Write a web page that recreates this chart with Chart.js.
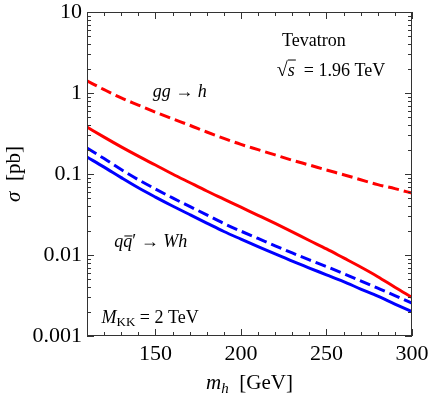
<!DOCTYPE html>
<html>
<head>
<meta charset="utf-8">
<style>
  html, body { margin: 0; padding: 0; background: #fff; }
</style>
<script src="https://cdn.jsdelivr.net/npm/chart.js@4"></script>
</head>
<body>
<canvas id="myChart" width="429" height="395"></canvas>
<script>
// Higgs mass (GeV)
var masses = [110, 120, 130, 140, 150, 160, 170, 180, 190, 200, 210, 220, 230, 240, 250, 260, 270, 280, 290, 300];

// cross sections in pb
var redDashed  = [1.41, 1.10, 0.87, 0.71, 0.58, 0.48, 0.40, 0.33, 0.275, 0.232, 0.200, 0.172, 0.148, 0.129, 0.112, 0.098, 0.085, 0.074, 0.066, 0.058];
var redSolid   = [0.38, 0.285, 0.216, 0.166, 0.129, 0.100, 0.0785, 0.0617, 0.049, 0.0389, 0.0309, 0.0245, 0.0193, 0.0151, 0.0119, 0.0092, 0.0071, 0.0054, 0.0040, 0.0030];
var blueDashed = [0.209, 0.155, 0.1135, 0.085, 0.0653, 0.0507, 0.0398, 0.0313, 0.0245, 0.0197, 0.0160, 0.0130, 0.0106, 0.0087, 0.0072, 0.0059, 0.0048, 0.0039, 0.00316, 0.00254];
var blueSolid  = [0.162, 0.1216, 0.0902, 0.0676, 0.0519, 0.0403, 0.0316, 0.0248, 0.0195, 0.0157, 0.0127, 0.01035, 0.0084, 0.0069, 0.0057, 0.0047, 0.0038, 0.0031, 0.00248, 0.0020];

var xTickValues = [150, 200, 250, 300];
var yTickValues = [0.001, 0.01, 0.1, 1, 10];
var yTickLabels = ['0.001', '0.01', '0.1', '1', '10'];

var serif = '"Liberation Serif", "Times New Roman", serif';

function pts(arr) {
    return masses.map(function (m, i) { return { x: m, y: arr[i] }; });
}

function runsWidth(ctx, runs) {
    var w = 0;
    runs.forEach(function (r) { ctx.font = r.font; w += ctx.measureText(r.text).width; });
    return w;
}

function drawRuns(ctx, x, y, runs) {
    var cx = x;
    runs.forEach(function (r) {
        ctx.font = r.font;
        var w = ctx.measureText(r.text).width;
        ctx.fillText(r.text, cx, y + (r.dy || 0));
        if (r.bar) {
            ctx.beginPath();
            ctx.lineWidth = 1;
            ctx.moveTo(cx + (r.barFrom || 0), y - r.bar);
            ctx.lineTo(cx + w + (r.barExtra || 0), y - r.bar);
            ctx.stroke();
        }
        cx += w;
    });
}

var framePlugin = {
    id: 'frame',
    afterDatasetsDraw: function (chart) {
        var ctx = chart.ctx, a = chart.chartArea;
        var xs = chart.scales.x, ys = chart.scales.y;
        ctx.save();
        ctx.strokeStyle = '#333';
        ctx.lineWidth = 1;
        ctx.strokeRect(a.left + 0.5, a.top + 0.5, a.right - a.left - 1, a.bottom - a.top - 1);

        // x ticks, bottom and top, pointing inwards
        for (var v = 110; v <= 300; v += 10) {
            var px = Math.round(xs.getPixelForValue(v)) + 0.5;
            var len = v % 50 === 0 ? 7 : 4;
            ctx.beginPath();
            ctx.moveTo(px, a.bottom); ctx.lineTo(px, a.bottom - len);
            ctx.moveTo(px, a.top); ctx.lineTo(px, a.top + len);
            ctx.stroke();
        }
        // y ticks, log minor ticks
        for (var e = -3; e <= 1; e++) {
            for (var k = 1; k <= 9; k++) {
                if (e === 1 && k > 1) break;
                var val = k * Math.pow(10, e);
                var py = Math.round(ys.getPixelForValue(val)) + 0.5;
                var l = k === 1 ? 7 : 4;
                ctx.beginPath();
                ctx.moveTo(a.left, py); ctx.lineTo(a.left + l, py);
                ctx.moveTo(a.right, py); ctx.lineTo(a.right - l, py);
                ctx.stroke();
            }
        }

        // annotations
        ctx.fillStyle = '#000';
        ctx.strokeStyle = '#000';
        ctx.textBaseline = 'alphabetic';
        var up = '18px ' + serif, it = 'italic 18px ' + serif;
        drawRuns(ctx, xs.getPixelForValue(224), ys.getPixelForValue(3.8), [{ text: 'Tevatron', font: up }]);
        drawRuns(ctx, xs.getPixelForValue(221), ys.getPixelForValue(1.62), [
            { text: '\u221A', font: '20px ' + serif },
            { text: 's', font: it, bar: 16, barExtra: 1 },
            { text: '  = 1.96 TeV', font: up }
        ]);
        drawRuns(ctx, xs.getPixelForValue(148.4), ys.getPixelForValue(0.89), [
            { text: 'gg', font: it }, { text: ' \u2192 ', font: up }, { text: 'h', font: it }
        ]);
        drawRuns(ctx, xs.getPixelForValue(126), ys.getPixelForValue(0.01256), [
            { text: 'q', font: it }, { text: 'q', font: it, bar: 11, barFrom: 1 },
            { text: '\u2032', font: up }, { text: ' \u2192 ', font: up }, { text: 'Wh', font: it }
        ]);
        drawRuns(ctx, xs.getPixelForValue(118.5), ys.getPixelForValue(0.00144), [
            { text: 'M', font: it }, { text: 'KK', font: '13px ' + serif, dy: 3 },
            { text: ' = 2 TeV', font: up }
        ]);

        // axis titles
        var t = '21px ' + serif, ti = 'italic 21px ' + serif;
        var xr = [{ text: 'm', font: ti }, { text: 'h', font: 'italic 15px ' + serif, dy: 4 }, { text: '  [GeV]', font: t }];
        var xw = runsWidth(ctx, xr);
        drawRuns(ctx, (a.left + a.right) / 2 - xw / 2, 389, xr);

        var yr = [{ text: '\u03C3', font: ti }, { text: '  [pb]', font: t }];
        var yw = runsWidth(ctx, yr);
        ctx.translate(20, (a.top + a.bottom) / 2);
        ctx.rotate(-Math.PI / 2);
        drawRuns(ctx, -yw / 2, 0, yr);
        ctx.restore();
    }
};

var ctx = document.getElementById('myChart').getContext('2d');

var myChart = new Chart(ctx, {
    type: 'line',
    data: {
        datasets: [{
            label: 'gg -> h (dashed)',
            data: pts(redDashed),
            borderColor: '#ff0000',
            borderDash: [11, 5],
            borderWidth: 3
        }, {
            label: 'gg -> h',
            data: pts(redSolid),
            borderColor: '#ff0000',
            borderWidth: 3
        }, {
            label: 'qq -> Wh (dashed)',
            data: pts(blueDashed),
            borderColor: '#0000ff',
            borderDash: [11, 5],
            borderWidth: 3
        }, {
            label: 'qq -> Wh',
            data: pts(blueSolid),
            borderColor: '#0000ff',
            borderWidth: 3
        }]
    },
    options: {
        responsive: false,
        animation: false,
        elements: { point: { radius: 0 }, line: { cubicInterpolationMode: 'monotone', fill: false } },
        layout: { padding: { top: 12, right: 17, left: 0, bottom: 0 } },
        plugins: { legend: { display: false }, tooltip: { enabled: false } },
        scales: {
            x: {
                type: 'linear',
                min: 110,
                max: 300,
                afterBuildTicks: function (s) { s.ticks = xTickValues.map(function (v) { return { value: v }; }); },
                afterFit: function (s) { s.height = 59; s.paddingLeft = 0; s.paddingRight = 0; },
                grid: { display: false, drawTicks: false },
                border: { display: false },
                ticks: { color: '#000', padding: 5, maxRotation: 0, autoSkip: false, font: { family: serif, size: 22 } }
            },
            y: {
                type: 'logarithmic',
                min: 0.001,
                max: 10,
                afterBuildTicks: function (s) { s.ticks = yTickValues.map(function (v) { return { value: v }; }); },
                afterFit: function (s) { s.width = 87; s.paddingTop = 0; s.paddingBottom = 0; },
                grid: { display: false, drawTicks: false },
                border: { display: false },
                ticks: {
                    color: '#000', padding: 5, autoSkip: false, font: { family: serif, size: 22 },
                    callback: function (v, i) { return yTickLabels[i]; }
                }
            }
        }
    },
    plugins: [framePlugin]
});
</script>
</body>
</html>
